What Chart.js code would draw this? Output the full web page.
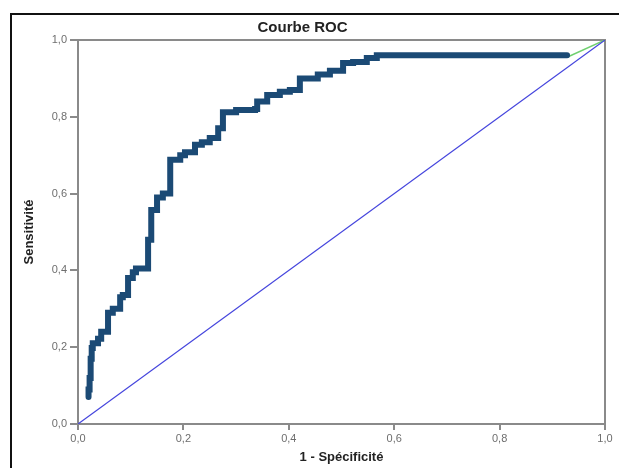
<!DOCTYPE html>
<html>
<head>
<meta charset="utf-8">
<script src="https://cdn.jsdelivr.net/npm/chart.js@4/dist/chart.umd.min.js"></script>
<style>
html,body{margin:0;padding:0;background:#fff;}
canvas{display:block;}
</style>
</head>
<body>
<canvas id="c" width="619" height="468"></canvas>
<script>
// ROC curve vertices (1 - specificity, sensitivity)
const rocFpr = [0.020,0.022,0.024,0.026,0.028,0.038,0.044,0.057,0.066,0.080,0.085,0.095,0.104,0.110,0.133,0.139,0.150,0.161,0.175,0.194,0.203,0.222,0.235,0.250,0.266,0.275,0.290,0.300,0.336,0.340,0.359,0.383,0.402,0.421,0.455,0.478,0.503,0.522,0.548,0.567,0.598,0.928];
const rocTpr = [0.070,0.090,0.120,0.170,0.198,0.210,0.222,0.240,0.290,0.300,0.330,0.336,0.380,0.395,0.405,0.480,0.557,0.590,0.600,0.688,0.700,0.708,0.727,0.734,0.745,0.770,0.812,0.812,0.818,0.820,0.840,0.857,0.865,0.870,0.900,0.910,0.920,0.940,0.943,0.953,0.960,0.960];
// reference diagonal
const refX = [0, 1];
const refY = [0, 1];
// closing segment of curve
const endX = [0.928, 1];
const endY = [0.955, 1];
const tickLabels = ['0,0','0,2','0,4','0,6','0,8','1,0'];
const chartTitle = 'Courbe ROC';
const xTitle = '1 - Spécificité';
const yTitle = 'Sensitivité';

const toPts = (xs, ys) => xs.map((x, i) => ({x: x, y: ys[i]}));
const tickCb = v => { const i = Math.round(v / 0.2); return Math.abs(v - i * 0.2) < 1e-6 ? tickLabels[i] : ''; };

const FONT = "'Liberation Sans', Arial, sans-serif";
const AXIS = '#8a8a8a';

const framePlugin = {
  id: 'frame',
  beforeDraw(chart) {
    const ctx = chart.ctx;
    ctx.save();
    ctx.fillStyle = '#fff';
    ctx.fillRect(0, 0, chart.width, chart.height);
    ctx.strokeStyle = '#111';
    ctx.lineWidth = 2;
    ctx.beginPath();
    ctx.moveTo(11, chart.height);
    ctx.lineTo(11, 14);
    ctx.lineTo(chart.width, 14);
    ctx.stroke();
    ctx.restore();
  }
};

new Chart(document.getElementById('c'), {
  type: 'line',
  data: {
    datasets: [
      {
        data: toPts(rocFpr, rocTpr),
        borderColor: '#1b4a75',
        borderWidth: 6,
        stepped: 'after',
        pointRadius: 0,
        fill: false,
        order: 0,
        borderCapStyle: 'round',
        borderJoinStyle: 'miter'
      },
      {
        data: toPts(endX, endY),
        borderColor: '#6fcf6f',
        borderWidth: 1.5,
        pointRadius: 0,
        fill: false,
        order: 2
      },
      {
        data: toPts(refX, refY),
        borderColor: '#4545dd',
        borderWidth: 1.2,
        pointRadius: 0,
        fill: false,
        order: 1
      }
    ]
  },
  options: {
    responsive: false,
    animation: false,
    devicePixelRatio: 1,
    layout: { padding: { left: 0, right: 14, top: 0, bottom: 0 } },
    plugins: {
      legend: { display: false },
      tooltip: { enabled: false },
      title: {
        display: true,
        text: chartTitle,
        color: '#222',
        font: { family: FONT, size: 15, weight: 'bold' },
        padding: { top: 19, bottom: 3 }
      }
    },
    scales: {
      x: {
        type: 'linear',
        position: 'bottom',
        min: 0, max: 1,
        ticks: { stepSize: 0.2, callback: tickCb, color: '#6e6e6e', font: { family: FONT, size: 11 }, padding: 2, maxRotation: 0 },
        grid: { display: true, drawOnChartArea: false, color: AXIS, lineWidth: 2, tickLength: 6 },
        border: { display: true, color: AXIS, width: 2 },
        title: { display: true, text: xTitle, color: '#222', font: { family: FONT, size: 13, weight: 'bold' }, padding: { top: 0, bottom: 3 } },
        afterFit(s) { s.height = 44; }
      },
      y: {
        type: 'linear',
        position: 'left',
        min: 0, max: 1,
        ticks: { stepSize: 0.2, callback: tickCb, color: '#6e6e6e', font: { family: FONT, size: 11 }, padding: 3 },
        grid: { display: true, drawOnChartArea: false, color: AXIS, lineWidth: 2, tickLength: 8 },
        border: { display: true, color: AXIS, width: 2 },
        title: { display: true, text: yTitle, color: '#222', font: { family: FONT, size: 13, weight: 'bold' }, padding: { top: 22, bottom: 0 } },
        afterFit(s) { s.width = 78; }
      },
      x2: {
        type: 'linear',
        position: 'top',
        min: 0, max: 1,
        ticks: { display: false },
        grid: { display: true, drawOnChartArea: false, drawTicks: false },
        border: { display: true, color: AXIS, width: 2 },
        afterFit(s) { s.height = 0; }
      },
      y2: {
        type: 'linear',
        position: 'right',
        min: 0, max: 1,
        ticks: { display: false },
        grid: { display: true, drawOnChartArea: false, drawTicks: false },
        border: { display: true, color: AXIS, width: 2 },
        afterFit(s) { s.width = 0; }
      }
    }
  },
  plugins: [framePlugin]
});
</script>
</body>
</html>
